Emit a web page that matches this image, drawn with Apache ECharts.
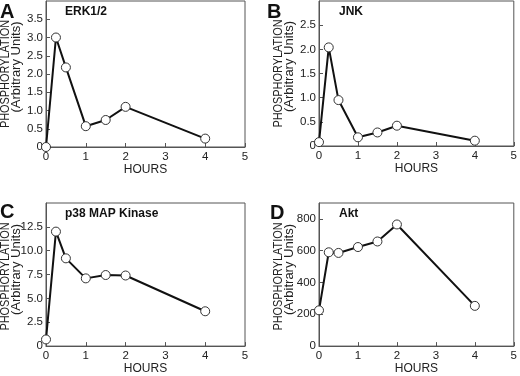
<!DOCTYPE html>
<html>
<head>
<meta charset="utf-8">
<script src="https://cdn.jsdelivr.net/npm/echarts@6/dist/echarts.min.js"></script>
<style>
  html, body { margin: 0; padding: 0; background: #fff; }
  #chart { width: 520px; height: 376px; }
</style>
</head>
<body>
<div id="chart"></div>
<script>
// time points (hours)
var hours = [0, 0.25, 0.5, 1, 1.5, 2, 4];
// phosphorylation values per kinase
var erk = [0, 3.0, 2.18, 0.57, 0.74, 1.1, 0.23];
var jnk = [0.08, 2.04, 0.95, 0.18, 0.28, 0.42, 0.11];
var p38 = [0.7, 12.0, 9.2, 7.1, 7.45, 7.4, 3.65];
var akt = [225, 590, 586, 623, 658, 765, 253];

var panelLetters = ['A', 'B', 'C', 'D'];
var panelTitles = ['ERK1/2', 'JNK', 'p38 MAP Kinase', 'Akt'];
var yMax = [4, 3, 15, 900];
var yStep = [0.5, 0.5, 2.5, 200];

var font = 'Liberation Sans, Arial, sans-serif';
var axisGray = '#555';
var textColor = '#222';

var grids = [
    { left: 46, top: 1, width: 199, height: 146 },
    { left: 319, top: 1, width: 198, height: 145 },
    { left: 46, top: 203, width: 199, height: 147 },
    { left: 319, top: 203, width: 198, height: 147 }
];

function pairs(vals) {
    return hours.map(function (h, i) { return [h, vals[i]]; });
}

function yLabel(v, idx) {
    if (v === 0) return '0';
    if (idx === 3) return String(v);
    return v.toFixed(1);
}

var chart = echarts.init(document.getElementById('chart'));
var seriesData = [erk, jnk, p38, akt];

var option = {
    backgroundColor: '#fff',
    animation: false,
    textStyle: { fontFamily: font },
    title: [],
    grid: [],
    xAxis: [],
    yAxis: [],
    series: [],
    graphic: []
};

var letterPos = [[0, 2], [267, 2], [0, 202], [270, 203]];
var titlePos = [[65, 6], [339, 6], [65, 208], [339, 208]];

for (var i = 0; i < 4; i++) {
    var g = grids[i];
    option.title.push({
        text: panelLetters[i],
        left: letterPos[i][0], top: letterPos[i][1],
        padding: 0,
        textStyle: { fontFamily: font, fontSize: 20, fontWeight: 'bold', color: '#111' }
    });
    option.title.push({
        text: panelTitles[i],
        left: titlePos[i][0], top: titlePos[i][1],
        padding: 0,
        textStyle: { fontFamily: font, fontSize: 12, fontWeight: 'bold', color: '#111' }
    });
    option.grid.push(Object.assign({
        show: true,
        borderColor: axisGray,
        borderWidth: 1,
        containLabel: false
    }, g));

    // rotated y axis name, two lines (the caps line is a bit condensed in the original)
    var midY = g.top + g.height / 2;
    option.graphic.push({
        type: 'text',
        x: g.left - 41, y: midY,
        rotation: Math.PI / 2,
        scaleX: 0.84,
        style: {
            text: 'PHOSPHORYLATION',
            font: '13px ' + font,
            fill: textColor,
            align: 'center', verticalAlign: 'middle'
        }
    });
    option.graphic.push({
        type: 'text',
        x: g.left - 29.5, y: midY - 7,
        rotation: Math.PI / 2,
        style: {
            text: '(Arbitrary Units)',
            font: '13px ' + font,
            fill: textColor,
            align: 'center', verticalAlign: 'middle'
        }
    });

    option.xAxis.push({
        type: 'value',
        gridIndex: i,
        min: 0, max: 5, interval: 1,
        name: 'HOURS',
        nameLocation: 'middle',
        nameGap: 15,
        nameTextStyle: { fontFamily: font, fontSize: 12, color: textColor, verticalAlign: 'top' },
        axisLine: { show: true, lineStyle: { color: axisGray, width: 1 } },
        axisTick: { show: true, inside: true, length: 4, lineStyle: { color: axisGray } },
        axisLabel: { fontFamily: font, fontSize: 11.5, color: textColor, margin: 4 },
        splitLine: { show: false }
    });
    (function (idx) {
        option.yAxis.push({
            type: 'value',
            gridIndex: idx,
            min: 0, max: yMax[idx], interval: yStep[idx],
            axisLine: { show: true, lineStyle: { color: axisGray, width: 1 } },
            axisTick: { show: true, inside: true, length: 4, lineStyle: { color: axisGray } },
            axisLabel: {
                fontFamily: font, fontSize: 11.5, color: textColor, margin: 3,
                showMaxLabel: false,
                formatter: function (v) { return yLabel(v, idx); }
            },
            splitLine: { show: false }
        });
    })(i);
    option.series.push({
        type: 'line',
        xAxisIndex: i,
        yAxisIndex: i,
        data: pairs(seriesData[i]),
        symbol: 'circle',
        symbolSize: 9,
        showAllSymbol: true,
        lineStyle: { color: '#111', width: 2 },
        itemStyle: { color: '#fff', borderColor: '#333', borderWidth: 1 }
    });
}

chart.setOption(option);
</script>
</body>
</html>
